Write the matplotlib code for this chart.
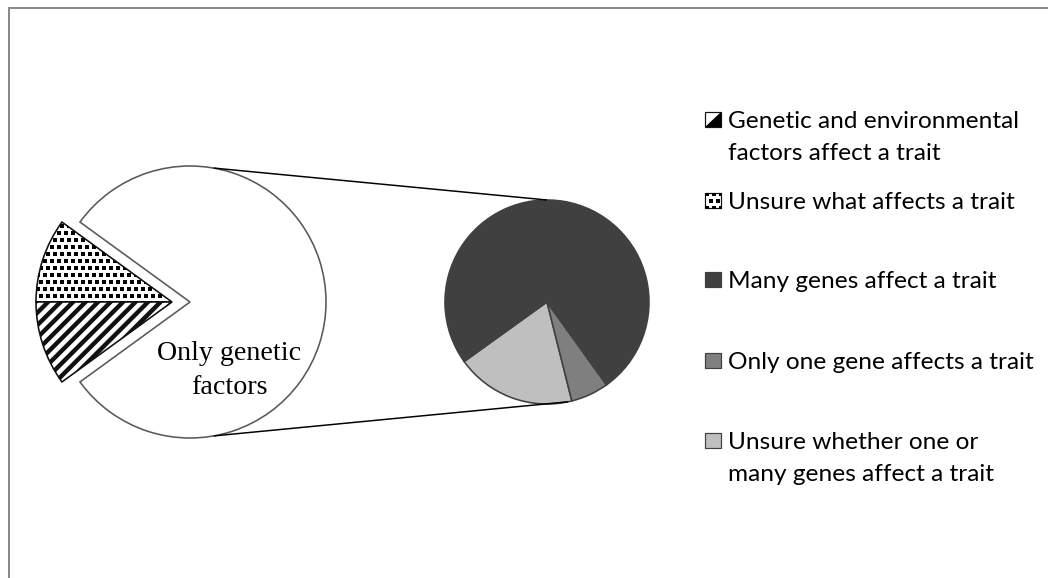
import numpy as np
import matplotlib
matplotlib.use("Agg")
import matplotlib.pyplot as plt
from matplotlib.patches import Rectangle, Polygon

# ---- data -------------------------------------------------------------
main_labels = ["Only genetic\nfactors",
               "Unsure what affects a trait",
               "Genetic and environmental\nfactors affect a trait"]
main_values = [80, 10, 10]

detail_labels = ["Unsure whether one or\nmany genes affect a trait",
                 "Only one gene affects a trait",
                 "Many genes affect a trait"]
detail_values = [19, 6, 75]
detail_colors = ["#bfbfbf", "#7f7f7f", "#404040"]

# ---- layout (pixels; helper converts "from top" to axes y) -------------
W, H = 1048, 578
DPI = 75
PX = 72.0 / DPI                      # points per pixel


def top(y):
    return H - y


main_center = (190, top(302))
main_radius = 136
split_shift = 18                     # how far the small slices are pulled out
detail_center = (547, top(302))
detail_radius = 102

plt.rcParams["hatch.linewidth"] = 4.4 * PX

fig = plt.figure(figsize=(W / DPI, H / DPI), dpi=DPI)
ax = fig.add_axes([0, 0, 1, 1])

# main pie
main_wedges, _ = ax.pie(
    main_values, startangle=216, counterclock=True,
    center=main_center, radius=main_radius,
    colors=["white"] * 3, hatch=["", "", "//"],
    wedgeprops=dict(linewidth=1.6 * PX, edgecolor="#404040"),
)
main_wedges[0].set_edgecolor("#595959")
for w in main_wedges[1:]:
    w.set_edgecolor("#111111")
    w.set_center((main_center[0] - split_shift, main_center[1]))


def dot_fill(patch, x0, x1, y0, y1, pitch=7.0, size=3.6):
    """Staggered square-dot fill clipped to a patch (coordinates in px)."""
    pts = []
    for i, yy in enumerate(np.arange(y0, y1 + pitch, pitch)):
        shift = 0.5 * pitch if i % 2 else 0.0
        for xx in np.arange(x0 + shift, x1 + pitch, pitch):
            pts.append((xx, yy))
    pts = np.array(pts)
    sc = ax.scatter(pts[:, 0], pts[:, 1], s=(size * PX) ** 2, marker="s",
                    color="black", linewidths=0, zorder=patch.get_zorder() + 0.1)
    sc.set_clip_path(patch)
    return sc


dot_fill(main_wedges[1], 20, 180, top(310), top(215))

# detail pie
detail_wedges, _ = ax.pie(
    detail_values, startangle=215.7, counterclock=True,
    center=detail_center, radius=detail_radius,
    colors=detail_colors,
    wedgeprops=dict(linewidth=1.6 * PX, edgecolor="#404040"),
)


# connector lines between the two pies
def on_circle(c, r, deg):
    a = np.deg2rad(deg)
    return c[0] + r * np.cos(a), c[1] + r * np.sin(a)


for a_main, a_det in [(80, 90), (-80, -78)]:
    p0 = on_circle(main_center, main_radius, a_main)
    p1 = on_circle(detail_center, detail_radius, a_det)
    ax.plot([p0[0], p1[0]], [p0[1], p1[1]], color="black",
            linewidth=1.5 * PX, solid_capstyle="butt")

# label inside the big slice (baseline of the last line)
ax.text(229, top(394), main_labels[0], ha="center", va="baseline",
        family="Liberation Serif", fontsize=28 * PX, linespacing=1.47,
        color="black", multialignment="center")

ax.set_xlim(0, W)
ax.set_ylim(0, H)
ax.set_aspect("equal")
ax.axis("off")

# ---- legend ------------------------------------------------------------
renderer = fig.canvas.get_renderer()
probe = ax.text(0, 0, main_labels[1], family="Lato", fontsize=24 * PX)
target_w = 287.0
leg_fs = 24 * PX * target_w / probe.get_window_extent(renderer).width
probe.remove()

legend_labels = [main_labels[2], main_labels[1],
                 detail_labels[2], detail_labels[1], detail_labels[0]]
first_rows = [119.5, 200, 279.5, 360, 440]   # first-line centres, px from top
line_pitch = 32.0
sw_x, sw_w, sw_h = 705, 16, 15
text_x = 728
cap = 0.72 * leg_fs / PX                      # cap height in px

swatches = []
for lab, yc in zip(legend_labels, first_rows):
    last = yc + line_pitch * lab.count("\n")
    ax.text(text_x, top(last + cap / 2), lab, family="Lato", fontsize=leg_fs,
            ha="left", va="baseline", linespacing=1.64, color="black")
    r = Rectangle((sw_x, top(yc + sw_h / 2)), sw_w, sw_h,
                  linewidth=1.2 * PX, edgecolor="#404040", facecolor="white")
    ax.add_patch(r)
    swatches.append(r)

# swatch styles follow their slices
swatches[0].set_edgecolor("#111111")
x0, y0 = sw_x, top(first_rows[0] + sw_h / 2)
ax.add_patch(Polygon([(x0 + sw_w, y0), (x0 + sw_w, y0 + sw_h), (x0, y0)],
                     closed=True, facecolor="black", edgecolor="none"))
swatches[1].set_edgecolor("#111111")
dot_fill(swatches[1], sw_x + 2, sw_x + sw_w, top(first_rows[1] + 8),
         top(first_rows[1] - 8), pitch=7.0, size=3.6)
for sw, wd in zip(swatches[2:], [detail_wedges[2], detail_wedges[1],
                                 detail_wedges[0]]):
    sw.set_facecolor(wd.get_facecolor())

# outer chart border
fig.add_artist(Rectangle((9 / W, -0.2), 1.5, (H - 7.7) / H + 0.2,
                         transform=fig.transFigure, fill=False,
                         edgecolor="#8a8a8a", linewidth=2 * PX))

fig.savefig("out.png", dpi=DPI)
